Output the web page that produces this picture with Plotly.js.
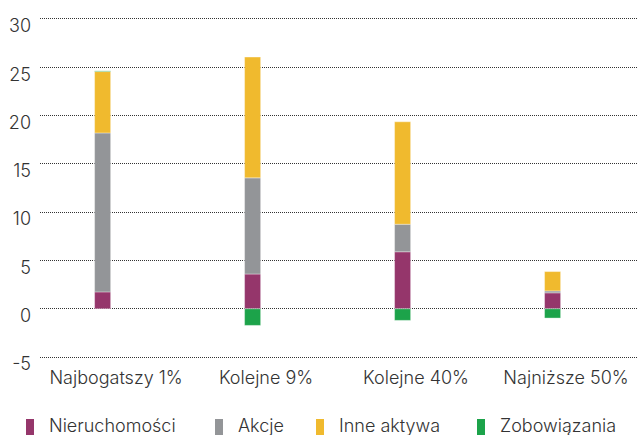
<!DOCTYPE html>
<html>
<head>
<meta charset="utf-8">
<script src="https://cdn.plot.ly/plotly-3.0.1.min.js"></script>
<style>
  html, body { margin: 0; padding: 0; background: #fff; }
  #chart { width: 638px; height: 435px; }
</style>
</head>
<body>
<div id="chart"></div>
<script>
// Struktura majątku netto według grup (składniki w rozbiciu na kategorie)
const categories = ['Najbogatszy 1%', 'Kolejne 9%', 'Kolejne 40%', 'Najniższe 50%'];

const seriesNames = ['Nieruchomości', 'Akcje', 'Inne aktywa', 'Zobowiązania'];
const nieruchomosci = [1.75, 3.6, 5.9, 1.65];
const akcje = [16.45, 9.95, 2.85, 0.2];
const inneAktywa = [6.35, 12.5, 10.6, 2.0];
const zobowiazania = [0.07, -1.72, -1.2, -0.96];

const yTickVals = [-5, 0, 5, 10, 15, 20, 25, 30];

const colors = ['#95366b', '#939598', '#f0ba2e', '#1ca34a'];
const seriesValues = [nieruchomosci, akcje, inneAktywa, zobowiazania];

const FONT = 'Inter, Roboto, sans-serif';
const FONT_SIZE = 18;
const FONT_WEIGHT = 300;
const TEXT_COLOR = '#333333';
const textFont = { family: FONT, size: FONT_SIZE, color: TEXT_COLOR, weight: FONT_WEIGHT };

const W = 638, H = 435;
const margin = { l: 40, r: 0, t: 16, b: 75, pad: 0 };
const plotW = W - margin.l - margin.r;
const plotH = H - margin.t - margin.b;
const px2x = (px) => (px - margin.l) / plotW;
const px2y = (py) => (H - margin.b - py) / plotH;

// bars sit slightly left of each category label
const barWidth = 0.107;
const barOffset = -0.143;

const traces = seriesValues.map((vals, i) => ({
  type: 'bar',
  name: seriesNames[i],
  x: categories,
  y: vals,
  width: barWidth,
  offset: barOffset,
  marker: { color: colors[i], line: { width: 0.6, color: 'rgba(255,255,255,0.6)' } },
  showlegend: false,
  hoverinfo: 'skip'
}));

// hand-built legend: tall narrow swatches followed by labels
const legendSwatchX = [26, 215, 316, 477];
const shapes = [];
const annotations = [];
seriesNames.forEach((name, i) => {
  shapes.push({
    type: 'rect', xref: 'paper', yref: 'paper',
    x0: px2x(legendSwatchX[i]), x1: px2x(legendSwatchX[i] + 8),
    y0: px2y(435), y1: px2y(419),
    fillcolor: colors[i], line: { width: 0 }
  });
  annotations.push({
    xref: 'paper', yref: 'paper',
    x: px2x(legendSwatchX[i] + 21), y: px2y(425),
    xanchor: 'left', yanchor: 'middle',
    text: name, showarrow: false,
    font: textFont
  });
});

const layout = {
  width: W, height: H,
  margin: margin,
  paper_bgcolor: '#ffffff',
  plot_bgcolor: '#ffffff',
  barmode: 'relative',
  showlegend: false,
  font: textFont,
  xaxis: {
    type: 'category',
    range: [-0.507, 3.48],
    showgrid: false, zeroline: false, showline: false,
    ticks: '', ticklabelstandoff: 5,
    tickfont: textFont,
    fixedrange: true
  },
  yaxis: {
    range: [-5.3, 30.3],
    tickvals: yTickVals,
    ticktext: yTickVals.map(String),
    showgrid: true,
    gridcolor: '#333333', gridwidth: 1, griddash: '1px,1px',
    zeroline: false, showline: false,
    ticks: '', ticklabelstandoff: 8, ticklabelshift: 7,
    tickfont: textFont,
    fixedrange: true
  },
  shapes: shapes,
  annotations: annotations
};

Plotly.newPlot('chart', traces, layout, { displayModeBar: false, staticPlot: true });
</script>
</body>
</html>
